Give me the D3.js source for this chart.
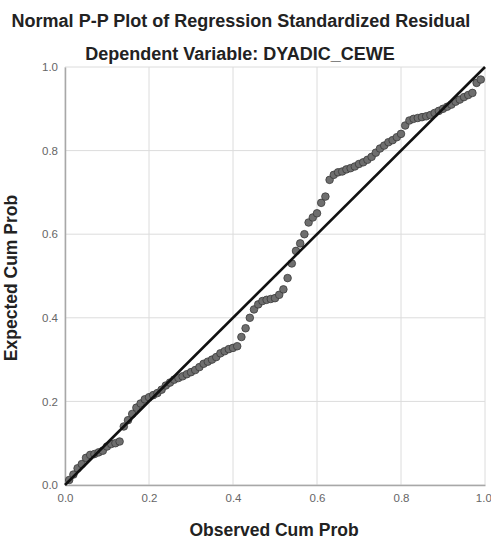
<!DOCTYPE html>
<html lang="en">
<head>
<meta charset="utf-8">
<title>Normal P-P Plot</title>
<script src="https://cdn.jsdelivr.net/npm/d3@7"></script>
<style>
  body { margin: 0; background: #fff; }
  .title { font-family: "Liberation Sans", Arial, sans-serif; font-weight: bold; fill: #222; }
  .tick text { font-family: "Liberation Sans", Arial, sans-serif; font-size: 11.5px; fill: #666; }
  .grid line { stroke: #dcdcdc; stroke-width: 1; }
</style>
</head>
<body>
<div id="chart"></div>
<script>
// observed cumulative probability of each case
var observed = [
  0.01, 0.02, 0.03, 0.04, 0.05, 0.06, 0.07, 0.08, 0.09, 0.10,
  0.11, 0.12, 0.13, 0.14, 0.15, 0.16, 0.17, 0.18, 0.19, 0.20,
  0.21, 0.22, 0.23, 0.24, 0.25, 0.26, 0.27, 0.28, 0.29, 0.30,
  0.31, 0.32, 0.33, 0.34, 0.35, 0.36, 0.37, 0.38, 0.39, 0.40,
  0.41, 0.42, 0.43, 0.44, 0.45, 0.46, 0.47, 0.48, 0.49, 0.50,
  0.51, 0.52, 0.53, 0.54, 0.55, 0.56, 0.57, 0.58, 0.59, 0.60,
  0.61, 0.62, 0.63, 0.64, 0.65, 0.66, 0.67, 0.68, 0.69, 0.70,
  0.71, 0.72, 0.73, 0.74, 0.75, 0.76, 0.77, 0.78, 0.79, 0.80,
  0.81, 0.82, 0.83, 0.84, 0.85, 0.86, 0.87, 0.88, 0.89, 0.90,
  0.91, 0.92, 0.93, 0.94, 0.95, 0.96, 0.97, 0.98, 0.99
];
// expected cumulative probability (normal) for the same cases
var expected = [
  0.012, 0.025, 0.040, 0.050, 0.065, 0.072, 0.074, 0.078, 0.082, 0.092,
  0.098, 0.100, 0.104, 0.140, 0.155, 0.170, 0.185, 0.195, 0.205, 0.210,
  0.215, 0.220, 0.228, 0.238, 0.245, 0.252, 0.256, 0.260, 0.265, 0.270,
  0.275, 0.282, 0.290, 0.295, 0.300, 0.306, 0.315, 0.320, 0.325, 0.328,
  0.332, 0.354, 0.375, 0.400, 0.420, 0.432, 0.440, 0.443, 0.445, 0.447,
  0.455, 0.468, 0.495, 0.530, 0.560, 0.578, 0.600, 0.628, 0.640, 0.650,
  0.675, 0.690, 0.730, 0.742, 0.748, 0.750, 0.755, 0.758, 0.762, 0.768,
  0.772, 0.778, 0.785, 0.795, 0.805, 0.812, 0.820, 0.825, 0.832, 0.840,
  0.860, 0.872, 0.876, 0.878, 0.880, 0.882, 0.885, 0.890, 0.895, 0.900,
  0.905, 0.910, 0.917, 0.922, 0.928, 0.933, 0.938, 0.962, 0.970
];
var ticks = [0.0, 0.2, 0.4, 0.6, 0.8, 1.0];
var refLine = [0, 1];

var width = 491,
    height = 539,
    margin = {top: 67, right: 6, bottom: 54, left: 65};

var svg = d3.select("#chart").append("svg")
    .attr("width", width)
    .attr("height", height);

var x = d3.scaleLinear().domain([0, 1]).range([margin.left, width - margin.right]);
var y = d3.scaleLinear().domain([0, 1]).range([height - margin.bottom, margin.top]);

// titles
svg.append("text").attr("class", "title")
    .attr("x", 241).attr("y", 27)
    .attr("text-anchor", "middle").style("font-size", "18px")
    .text("Normal P-P Plot of Regression Standardized Residual");
svg.append("text").attr("class", "title")
    .attr("x", 240).attr("y", 60)
    .attr("text-anchor", "middle").style("font-size", "18px")
    .text("Dependent Variable: DYADIC_CEWE");

// grid
var grid = svg.append("g").attr("class", "grid");
grid.selectAll(".gx").data(ticks).enter().append("line")
    .attr("x1", function(d) { return x(d); }).attr("x2", function(d) { return x(d); })
    .attr("y1", y(0)).attr("y2", y(1));
grid.selectAll(".gy").data(ticks).enter().append("line")
    .attr("y1", function(d) { return y(d); }).attr("y2", function(d) { return y(d); })
    .attr("x1", x(0)).attr("x2", x(1));

// axes
var xAxis = svg.append("g")
    .attr("transform", "translate(0," + y(0) + ")")
    .call(d3.axisBottom(x).tickValues(ticks).tickFormat(d3.format(".1f")).tickSize(0).tickPadding(9));
// last label sits on the window edge; keep it inside
xAxis.selectAll(".tick text").filter(function(d) { return d === 1; })
    .attr("text-anchor", "end").attr("dx", "0.55em");
var yAxis = svg.append("g")
    .attr("transform", "translate(" + x(0) + ",0)")
    .call(d3.axisLeft(y).tickValues(ticks).tickFormat(d3.format(".1f")).tickSize(0).tickPadding(7));
svg.selectAll(".domain").attr("stroke", "#a8a8a8").attr("stroke-width", 1.5);

// axis titles
svg.append("text").attr("class", "title")
    .attr("x", 274).attr("y", 536)
    .attr("text-anchor", "middle").style("font-size", "17.5px")
    .text("Observed Cum Prob");
svg.append("text").attr("class", "title")
    .attr("transform", "translate(17,278) rotate(-90)")
    .attr("text-anchor", "middle").style("font-size", "17.5px")
    .text("Expected Cum Prob");

// points
svg.append("g").selectAll("circle")
    .data(observed)
  .enter().append("circle")
    .attr("cx", function(d) { return x(d); })
    .attr("cy", function(d, i) { return y(expected[i]); })
    .attr("r", 3.8)
    .attr("fill", "#6e6e6e")
    .attr("stroke", "#3a3a3a")
    .attr("stroke-width", 0.8);

// reference diagonal
svg.append("line")
    .attr("x1", x(refLine[0])).attr("y1", y(refLine[0]))
    .attr("x2", x(refLine[1])).attr("y2", y(refLine[1]))
    .attr("stroke", "#111").attr("stroke-width", 2.6);
</script>
</body>
</html>
